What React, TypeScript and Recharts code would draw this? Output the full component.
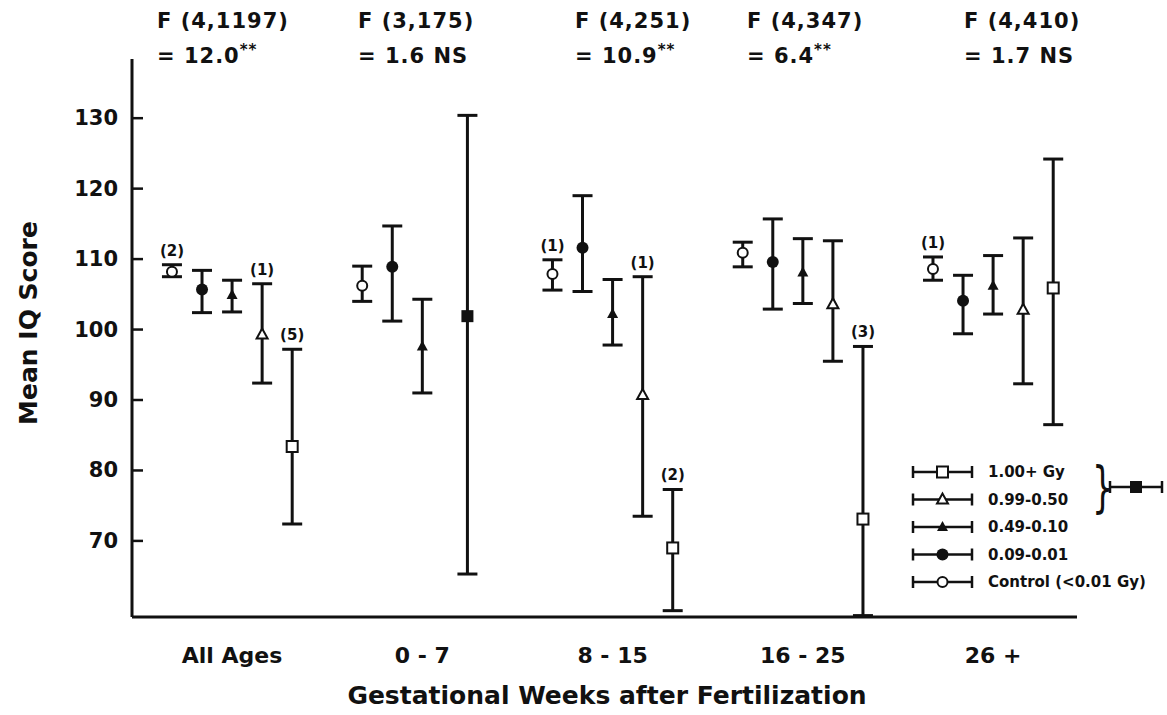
import React from "react";
import { ScatterChart, Scatter, XAxis, YAxis, ErrorBar } from "recharts";

// gestational-age groups and the F test printed above each of them
const groups = ["All Ages", "0 - 7", "8 - 15", "16 - 25", "26 +"];
const fStat = ["F (4,1197)", "F (3,175)", "F (4,251)", "F (4,347)", "F (4,410)"];
const fValue = ["= 12.0", "= 1.6 NS", "= 10.9", "= 6.4", "= 1.7 NS"];
const fSig = ["**", "", "**", "**", ""];

// mean IQ with the ends of each interval, per group (null = not plotted)
const controlMean = [108.2, 106.2, 107.9, 110.9, 108.6];
const controlLow = [107.5, 104.0, 105.6, 108.9, 107.0];
const controlHigh = [109.2, 109.0, 109.9, 112.4, 110.3];
const controlN = [2, null, 1, null, 1];

const dose01Mean = [105.7, 108.9, 111.6, 109.6, 104.1];
const dose01Low = [102.4, 101.2, 105.4, 102.9, 99.4];
const dose01High = [108.4, 114.7, 119.0, 115.7, 107.7];

const dose10Mean = [104.9, 97.6, 102.2, 108.1, 106.2];
const dose10Low = [102.5, 91.0, 97.8, 103.7, 102.2];
const dose10High = [107.0, 104.3, 107.1, 112.9, 110.5];

const dose50Mean = [99.3, null, 90.7, 103.6, 102.8];
const dose50Low = [92.4, null, 73.5, 95.5, 92.3];
const dose50High = [106.5, null, 107.5, 112.6, 113.0];
const dose50N = [1, null, 1, null, null];

const dose100Mean = [83.4, null, 69.0, 73.1, 105.9];
const dose100Low = [72.4, null, 60.1, 59.4, 86.5];
const dose100High = [97.2, null, 77.3, 97.6, 124.2];
const dose100N = [5, null, 2, 3, null];

// 0.50+ Gy pooled, only shown for 0 - 7 weeks
const pooledMean = [null, 101.9, null, null, null];
const pooledLow = [null, 65.3, null, null, null];
const pooledHigh = [null, 130.4, null, null, null];

const legendLabels = ["1.00+ Gy", "0.99-0.50", "0.49-0.10", "0.09-0.01", "Control (<0.01 Gy)"];
const yTicks = [70, 80, 90, 100, 110, 120, 130];

const INK = "#111";
const FONT = "'DejaVu Sans', sans-serif";
const SLOT = 0.158; // spacing between dose markers inside a group

type Num = number | null;

function points(mean: Num[], low: Num[], high: Num[], offset: number) {
  const out: { x: number; y: number; err: number[] }[] = [];
  mean.forEach((m, i) => {
    if (m == null) return;
    out.push({ x: i + offset * SLOT, y: m, err: [m - (low[i] as number), (high[i] as number) - m] });
  });
  return out;
}

function counts(n: Num[], high: Num[], offset: number) {
  const out: { x: number; y: number; n: number }[] = [];
  n.forEach((c, i) => {
    if (c == null) return;
    out.push({ x: i + offset * SLOT, y: high[i] as number, n: c });
  });
  return out;
}

const OpenCircle = ({ cx, cy }: any) => <circle cx={cx} cy={cy} r={5} fill="#fff" stroke={INK} strokeWidth={2} />;
const FilledCircle = ({ cx, cy }: any) => <circle cx={cx} cy={cy} r={6} fill={INK} />;
const FilledTriangle = ({ cx, cy }: any) => (
  <polygon points={`${cx},${cy - 6} ${cx - 5.5},${cy + 4} ${cx + 5.5},${cy + 4}`} fill={INK} />
);
const OpenTriangle = ({ cx, cy }: any) => (
  <polygon points={`${cx},${cy - 6} ${cx - 5.5},${cy + 4} ${cx + 5.5},${cy + 4}`} fill="#fff" stroke={INK} strokeWidth={2} />
);
const OpenSquare = ({ cx, cy }: any) => (
  <rect x={cx - 5.5} y={cy - 5.5} width={11} height={11} fill="#fff" stroke={INK} strokeWidth={2} />
);
const FilledSquare = ({ cx, cy }: any) => <rect x={cx - 6} y={cy - 6} width={12} height={12} fill={INK} />;

const CountLabel = ({ cx, cy, payload }: any) => (
  <text x={cx} y={cy - 9} textAnchor="middle" fontFamily={FONT} fontWeight={700} fontSize={15} fill={INK}>
    ({payload.n})
  </text>
);

const series = [
  { name: "Control (<0.01 Gy)", data: points(controlMean, controlLow, controlHigh, -2), shape: OpenCircle },
  { name: "0.09-0.01", data: points(dose01Mean, dose01Low, dose01High, -1), shape: FilledCircle },
  { name: "0.49-0.10", data: points(dose10Mean, dose10Low, dose10High, 0), shape: FilledTriangle },
  { name: "0.99-0.50", data: points(dose50Mean, dose50Low, dose50High, 1), shape: OpenTriangle },
  { name: "1.00+ Gy", data: points(dose100Mean, dose100Low, dose100High, 2), shape: OpenSquare },
  { name: "0.50+ Gy", data: points(pooledMean, pooledLow, pooledHigh, 1.5), shape: FilledSquare },
];

const countData = [
  ...counts(controlN, controlHigh, -2),
  ...counts(dose50N, dose50High, 1),
  ...counts(dose100N, dose100High, 2),
];

const YTick = ({ x, y, payload }: any) => (
  <g>
    <line x1={x} x2={x + 11} y1={y} y2={y} stroke={INK} strokeWidth={2.5} />
    <text x={x - 14} y={y} textAnchor="end" dominantBaseline="central" fontFamily={FONT} fontWeight={700} fontSize={21} fill={INK}>
      {payload.value}
    </text>
  </g>
);

const XTick = ({ x, y, payload }: any) => (
  <text x={x} y={y + 38} textAnchor="middle" dominantBaseline="central" fontFamily={FONT} fontWeight={700} fontSize={22} fill={INK}>
    {groups[payload.value]}
  </text>
);

function LegendSymbol({ x, y, w = 59, Shape }: any) {
  return (
    <g>
      <line x1={x} x2={x + w} y1={y} y2={y} stroke={INK} strokeWidth={2.5} />
      <line x1={x} x2={x} y1={y - 6} y2={y + 6} stroke={INK} strokeWidth={2.5} />
      <line x1={x + w} x2={x + w} y1={y - 6} y2={y + 6} stroke={INK} strokeWidth={2.5} />
      <Shape cx={x + w / 2} cy={y} />
    </g>
  );
}

const legendShapes = [OpenSquare, OpenTriangle, FilledTriangle, FilledCircle, OpenCircle];
const fLeft = [157, 358, 575, 747, 964];

export default function App() {
  return (
    <div style={{ position: "absolute", left: 0, top: 0, width: 1167, height: 715, background: "#fff" }}>
      <ScatterChart width={1167} height={715} margin={{ top: 59, right: 90, bottom: 0, left: 62 }}>
        <XAxis
          type="number"
          dataKey="x"
          domain={[-0.526, 4.441]}
          ticks={[0, 1, 2, 3, 4]}
          allowDataOverflow
          height={98}
          tickLine={false}
          tickSize={0}
          tickMargin={0}
          tick={<XTick />}
          axisLine={{ stroke: INK, strokeWidth: 3 }}
        />
        <YAxis
          type="number"
          dataKey="y"
          domain={[59.2, 138.4]}
          ticks={yTicks}
          allowDataOverflow
          width={70}
          tickLine={false}
          tickSize={0}
          tickMargin={0}
          tick={<YTick />}
          axisLine={{ stroke: INK, strokeWidth: 3 }}
        />
        {series.map((s) => (
          <Scatter key={s.name} name={s.name} data={s.data} shape={s.shape} isAnimationActive={false}>
            <ErrorBar dataKey="err" direction="y" width={10} strokeWidth={3} stroke={INK} isAnimationActive={false} />
          </Scatter>
        ))}
        <Scatter name="n" data={countData} shape={CountLabel} isAnimationActive={false} />
      </ScatterChart>
      <svg width={1167} height={715} style={{ position: "absolute", left: 0, top: 0, pointerEvents: "none" }}>
        {fStat.map((t, i) => (
          <g key={t} fontFamily={FONT} fontWeight={700} fontSize={21} fill={INK} letterSpacing={1}>
            <text x={fLeft[i]} y={21} dominantBaseline="central">{t}</text>
            <text x={fLeft[i]} y={56} dominantBaseline="central">
              {fValue[i]}
              {fSig[i] && <tspan fontSize={15} dy={-6}>{fSig[i]}</tspan>}
            </text>
          </g>
        ))}
        <text
          transform="translate(28, 323) rotate(-90)"
          textAnchor="middle"
          dominantBaseline="central"
          fontFamily={FONT}
          fontWeight={700}
          fontSize={25}
          fill={INK}
        >
          Mean IQ Score
        </text>
        <text x={607} y={695} textAnchor="middle" dominantBaseline="central" fontFamily={FONT} fontWeight={700} fontSize={25} fill={INK}>
          Gestational Weeks after Fertilization
        </text>
        {legendLabels.map((label, i) => (
          <g key={label}>
            <LegendSymbol x={913} y={472 + 27.5 * i} Shape={legendShapes[i]} />
            <text x={988} y={472 + 27.5 * i} dominantBaseline="central" fontFamily={FONT} fontWeight={700} fontSize={15} fill={INK}>
              {label}
            </text>
          </g>
        ))}
        <text
          transform="translate(1092, 487) scale(0.8, 1.3)"
          dominantBaseline="central"
          fontFamily={FONT}
          fontSize={42}
          fill={INK}
        >
          {"}"}
        </text>
        <LegendSymbol x={1110} y={487} w={52} Shape={FilledSquare} />
      </svg>
    </div>
  );
}
